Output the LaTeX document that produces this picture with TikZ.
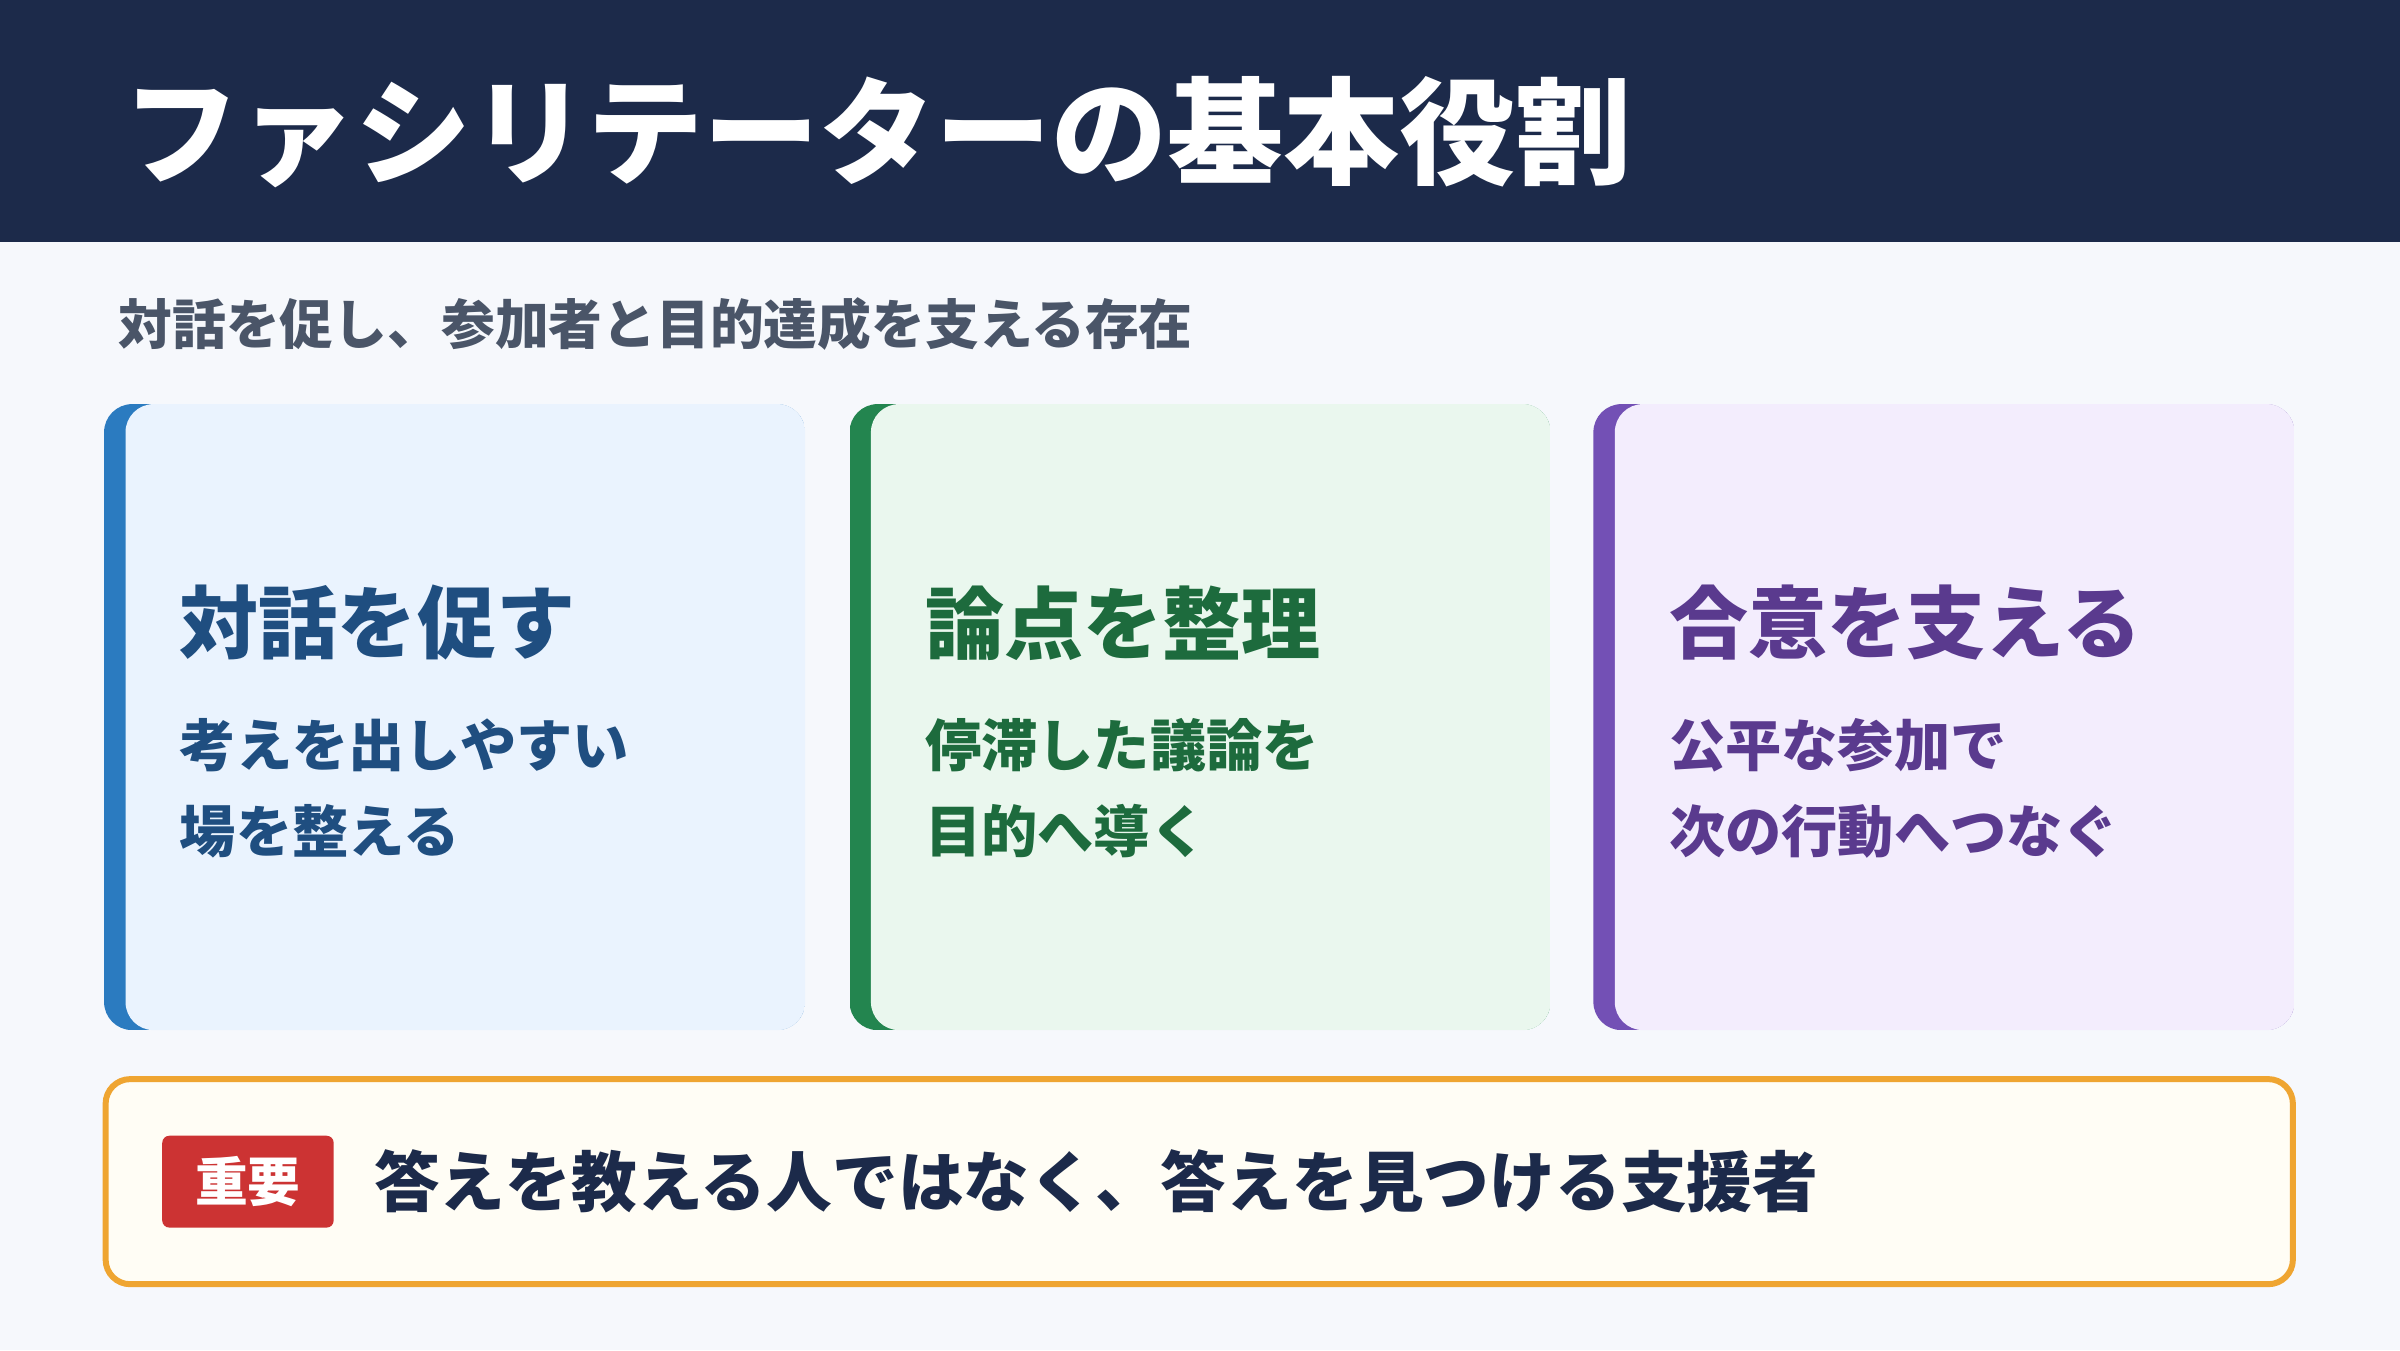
\documentclass[tikz,border=0pt]{standalone}
\usepackage{fontspec}
\setmainfont{Noto Sans CJK JP}
\usetikzlibrary{positioning}
\definecolor{navy}{HTML}{1C2A4A}
\definecolor{bgc}{HTML}{F6F8FC}
\definecolor{subc}{HTML}{4A5568}
\definecolor{fillA}{HTML}{EAF3FE}\definecolor{barA}{HTML}{2B7BC0}\definecolor{txtA}{HTML}{1F4E80}
\definecolor{fillB}{HTML}{EAF7EE}\definecolor{barB}{HTML}{23854F}\definecolor{txtB}{HTML}{1D6B3D}
\definecolor{fillC}{HTML}{F3EDFD}\definecolor{barC}{HTML}{7350B5}\definecolor{txtC}{HTML}{5A3A8E}
\definecolor{orangec}{HTML}{EFA531}
\definecolor{notec}{HTML}{FFFDF5}
\definecolor{redc}{HTML}{CC3333}
\tikzset{
  lbl/.style={inner sep=0pt,anchor=west},
  cardtitle/.style={lbl,font=\fontsize{22.5}{27}\selectfont\bfseries},
  cardbody/.style={lbl,font=\fontsize{16}{20}\selectfont\bfseries}
}
\begin{document}
\begin{tikzpicture}[x=0.015306cm,y=-0.015306cm]
\useasboundingbox (0,0) rectangle (1568,882);
\fill[bgc] (0,0) rectangle (1568,882);
\fill[navy] (0,0) rectangle (1568,158);
\node[lbl,text=white,font=\fontsize{33}{36}\selectfont\bfseries] (title) at (80,86) {ファシリテーターの基本役割};
\node[lbl,text=subc,font=\fontsize{15.3}{18}\selectfont\bfseries] (sub) at (77,212) {対話を促し、参加者と目的達成を支える存在};

\foreach \x/\c/\t/\la/\lb in {68/A/対話を促す/考えを出しやすい/場を整える,
  555/B/論点を整理/停滞した議論を/目的へ導く,
  1041/C/合意を支える/公平な参加で/次の行動へつなぐ}{
  \begin{scope}
    \clip[rounded corners=8pt] (\x,264) rectangle ++(458,409);
    \fill[bar\c] (\x,264) rectangle ++(458,409);
    \fill[fill\c,rounded corners=8pt] (\x+14,264) rectangle ++(444,409);
    \fill[fill\c] (\x+60,264) rectangle ++(398,409);
  \end{scope}
  \node[cardtitle,text=txt\c] (t\c) at (\x+49,407) {\t};
  \node[cardbody,text=txt\c] (a\c) at (\x+49,487) {\la};
  \node[cardbody,text=txt\c] (b\c) at (\x+49,543) {\lb};
}

\draw[orangec,fill=notec,line width=1.7pt,rounded corners=7pt] (69,705) rectangle (1498,839);
\fill[redc,rounded corners=2pt] (106,742) rectangle (218,802);
\node[text=white,inner sep=0pt,font=\fontsize{15}{18}\selectfont\bfseries] (badge) at (162,772) {重要};
\node[lbl,text=navy,font=\fontsize{18.7}{22}\selectfont\bfseries] (note) at (244,772) {答えを教える人ではなく、答えを見つける支援者};
\end{tikzpicture}
\end{document}
